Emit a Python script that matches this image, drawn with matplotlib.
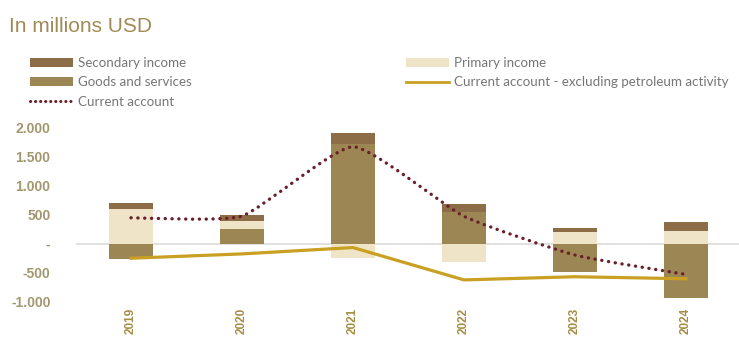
import matplotlib
matplotlib.use("Agg")
import matplotlib.pyplot as plt
import numpy as np
from matplotlib.path import Path
from matplotlib.patches import PathPatch, Patch
from matplotlib.lines import Line2D
from matplotlib.ticker import FixedLocator, FuncFormatter

years = ["2019", "2020", "2021", "2022", "2023", "2024"]
goods_services = [-270, 250, 1730, 545, -485, -935]
primary_income = [600, 140, -245, -320, 195, 215]
secondary_income = [95, 105, 185, 135, 80, 160]
current_account = [445, 475, 1675, 470, -200, -535]
ca_excl_petroleum = [-255, -180, -70, -630, -575, -610]
y_ticks = [-1000, -500, 0, 500, 1000, 1500, 2000]

C_SECONDARY = "#8c6d47"
C_GOODS = "#9b8654"
C_PRIMARY = "#f0e4c8"
C_EXCL = "#c9a022"
C_CA = "#6b1f2a"
C_TICK = "#a39770"
C_YEAR = "#a58d45"
C_TITLE = "#a08a55"
C_LEGEND = "#767676"

W, H = 739, 347
fig = plt.figure(figsize=(W / 100, H / 100), dpi=100)
ax = fig.add_axes([75.5 / W, (H - 301.3) / H, 666 / W, 173.4 / H])

x = np.arange(len(years))
bw = 0.4

# Stack positives upward and negatives downward, series by series
pos_base = np.zeros(len(years))
neg_base = np.zeros(len(years))
for vals, col in [(goods_services, C_GOODS), (primary_income, C_PRIMARY),
                  (secondary_income, C_SECONDARY)]:
    v = np.array(vals, dtype=float)
    base = np.where(v >= 0, pos_base, neg_base)
    ax.bar(x, v, bw, bottom=base, color=col, zorder=2, linewidth=0)
    pos_base += np.where(v >= 0, v, 0)
    neg_base += np.where(v < 0, v, 0)

ax.axhline(0, color="#dcdcdc", lw=1.2, zorder=1)

# Oil-excluding current account as straight segments
ax.plot(x, ca_excl_petroleum, color=C_EXCL, lw=2.3, zorder=3,
        solid_joinstyle="round")

# Current account as a lightly smoothed Bezier dotted curve
TENSION = 1.0 / 12.0
pts = np.column_stack([x, np.array(current_account, dtype=float)])
ext = np.vstack([pts[0], pts, pts[-1]])
verts = [tuple(pts[0])]
codes = [Path.MOVETO]
for i in range(len(pts) - 1):
    p0, p1, p2, p3 = ext[i], ext[i + 1], ext[i + 2], ext[i + 3]
    c1 = p1 + (p2 - p0) * TENSION
    c2 = p2 - (p3 - p1) * TENSION
    verts += [tuple(c1), tuple(c2), tuple(p2)]
    codes += [Path.CURVE4] * 3
ca_patch = PathPatch(Path(verts, codes), facecolor="none", edgecolor=C_CA,
                     lw=2.4, linestyle=(0, (0.05, 2.0)), capstyle="round",
                     zorder=4)
ax.add_patch(ca_patch)

ax.set_xlim(-0.5, 5.5)
ax.set_ylim(-1000, 2000)
for s in ax.spines.values():
    s.set_visible(False)

ax.yaxis.set_major_locator(FixedLocator(y_ticks))
ax.yaxis.set_major_formatter(FuncFormatter(
    lambda v, p: "-" if v == 0 else f"{int(v):,}".replace(",", ".")))
ax.tick_params(axis="y", length=0, pad=18, labelsize=10, labelcolor=C_TICK)
for lbl in ax.get_yticklabels():
    lbl.set_fontweight("bold")
    lbl.set_fontfamily("Liberation Sans")

ax.set_xticks(x)
ax.set_xticklabels(years, rotation=90, fontsize=8.5, fontweight="bold",
                   color=C_YEAR, family="Liberation Sans")
ax.tick_params(axis="x", length=0, pad=5)

fig.text(9 / W, 1 - 26 / H, "In millions USD", fontsize=15, color=C_TITLE,
         family="Liberation Sans", va="center", ha="left")

h_sec = Patch(facecolor=C_SECONDARY, edgecolor="none")
h_goods = Patch(facecolor=C_GOODS, edgecolor="none")
h_prim = Patch(facecolor=C_PRIMARY, edgecolor="none")
h_ca = Line2D([], [], color=C_CA, lw=2.2, linestyle=(0, (0.05, 1.6)),
              dash_capstyle="round")
h_excl = Line2D([], [], color=C_EXCL, lw=2.0)

leg_kw = dict(frameon=False, loc="upper left", borderpad=0, borderaxespad=0,
              handlelength=3.2, handleheight=0.7, handletextpad=0.4,
              labelspacing=0.55, labelcolor=C_LEGEND,
              prop={"family": "Lato", "size": 9.6})
leg1 = fig.legend([h_sec, h_goods, h_ca],
                  ["Secondary income", "Goods and services", "Current account"],
                  bbox_to_anchor=(30 / W, 1 - 57 / H), **leg_kw)
leg2 = fig.legend([h_prim, h_excl],
                  ["Primary income", "Current account - excluding petroleum activity"],
                  bbox_to_anchor=(406 / W, 1 - 57 / H), **leg_kw)

fig.savefig("out.png", dpi=100)
